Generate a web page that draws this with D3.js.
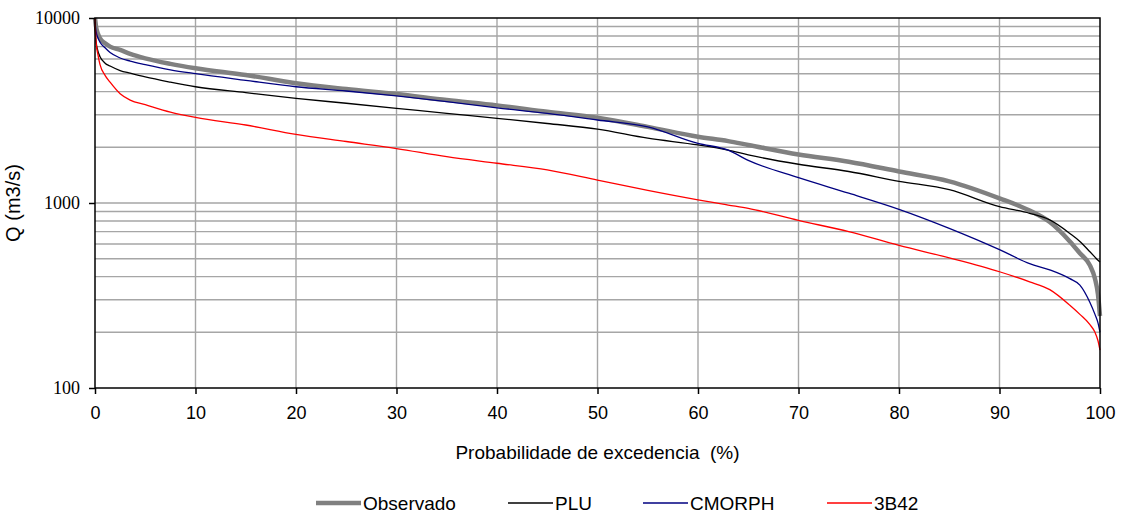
<!DOCTYPE html>
<html>
<head>
<meta charset="utf-8">
<script src="https://cdn.jsdelivr.net/npm/d3@7"></script>
<style>
  body { margin: 0; background: #fff; }
  svg { display: block; }
</style>
</head>
<body>
<div id="vis"></div>
<script>
// Frame
const FRAME_WIDTH = 1123;
const FRAME_HEIGHT = 516;
const MARGINS = {left: 95, right: 23, top: 18, bottom: 128};
const VIS_WIDTH = FRAME_WIDTH - MARGINS.left - MARGINS.right;
const VIS_HEIGHT = FRAME_HEIGHT - MARGINS.top - MARGINS.bottom;

// Data
const PROB = [0, 0.1, 0.3, 0.5, 1, 1.5, 2.5, 3.5, 5, 7.5, 10, 15, 20, 25, 30, 35, 40, 45, 50,
              55, 60, 63, 65, 70, 75, 80, 85, 90, 93, 95, 97, 98, 99, 99.5, 99.8, 100];
const OBSERVADO = [10000, 9000, 8200, 7760, 7300, 7000, 6720, 6400, 6050, 5650, 5350, 4920, 4440,
                   4130, 3880, 3600, 3370, 3110, 2890, 2580, 2280, 2160, 2060, 1830, 1670, 1480,
                   1310, 1060, 910, 790, 620, 535, 460, 390, 320, 245];
const PLU = [9000, 7500, 6600, 6180, 5700, 5500, 5200, 5030, 4800, 4500, 4250, 3950, 3680,
             3460, 3250, 3050, 2870, 2690, 2510, 2240, 2060, 1930, 1820, 1620, 1480, 1310,
             1180, 955, 880, 810, 685, 620, 545, 510, 490, 480];
const CMORPH = [9500, 8500, 7800, 7400, 6900, 6500, 6080, 5850, 5600, 5250, 5000, 4600, 4250,
                4030, 3790, 3530, 3270, 3050, 2810, 2580, 2100, 1930, 1700, 1370, 1130, 925,
                730, 560, 470, 435, 390, 360, 290, 250, 225, 200];
const B42 = [10000, 7500, 6300, 5600, 4900, 4500, 3900, 3600, 3400, 3100, 2900, 2640, 2350,
             2150, 1970, 1780, 1640, 1510, 1330, 1170, 1040, 975, 935, 805, 700, 590,
             505, 425, 375, 340, 280, 250, 220, 200, 180, 160];

const SERIES_NAMES = ["Observado", "PLU", "CMORPH", "3B42"];
const SERIES_VALUES = [OBSERVADO, PLU, CMORPH, B42];
const SERIES_COLORS = ["#808080", "#000000", "#000080", "#ff0000"];
const SERIES_WIDTHS = [4.5, 1.3, 1.3, 1.3];

// Ticks
const X_TICKS = [0, 10, 20, 30, 40, 50, 60, 70, 80, 90, 100];
const Y_TICKS = [100, 1000, 10000];
const Y_GRID = [200, 300, 400, 500, 600, 700, 800, 900, 1000,
                2000, 3000, 4000, 5000, 6000, 7000, 8000, 9000];

const SANS = "'Liberation Sans', Arial, sans-serif";
const SERIF = "'Liberation Serif', 'Times New Roman', serif";

const FRAME = d3.select("#vis")
                .append("svg")
                  .attr("width", FRAME_WIDTH)
                  .attr("height", FRAME_HEIGHT);

const X_SCALE = d3.scaleLinear()
                  .domain([0, 100])
                  .range([0, VIS_WIDTH]);

const Y_SCALE = d3.scaleLog()
                  .domain([100, 10000])
                  .range([VIS_HEIGHT, 0]);

const PLOT = FRAME.append("g")
                  .attr("transform", "translate(" + MARGINS.left + "," + MARGINS.top + ")");

// Horizontal grid
PLOT.selectAll(".hgrid")
    .data(Y_GRID)
    .enter()
    .append("line")
      .attr("x1", 0)
      .attr("x2", VIS_WIDTH)
      .attr("y1", (d) => { return Y_SCALE(d); })
      .attr("y2", (d) => { return Y_SCALE(d); })
      .attr("stroke", "#a6a6a6")
      .attr("stroke-width", 1.4);

// Vertical grid
PLOT.selectAll(".vgrid")
    .data(X_TICKS.slice(1, -1))
    .enter()
    .append("line")
      .attr("x1", (d) => { return X_SCALE(d); })
      .attr("x2", (d) => { return X_SCALE(d); })
      .attr("y1", 0)
      .attr("y2", VIS_HEIGHT)
      .attr("stroke", "#a6a6a6")
      .attr("stroke-width", 1.4);

// Lines
const LINE = d3.line()
               .x((d) => { return X_SCALE(d[0]); })
               .y((d) => { return Y_SCALE(d[1]); })
               .curve(d3.curveMonotoneX);

SERIES_VALUES.forEach((vals, i) => {
  PLOT.append("path")
      .datum(PROB.map((p, j) => { return [p, vals[j]]; }))
      .attr("fill", "none")
      .attr("stroke", SERIES_COLORS[i])
      .attr("stroke-width", SERIES_WIDTHS[i])
      .attr("stroke-linejoin", "round")
      .attr("d", LINE);
});

// Plot border
PLOT.append("rect")
    .attr("x", 0)
    .attr("y", 0)
    .attr("width", VIS_WIDTH)
    .attr("height", VIS_HEIGHT)
    .attr("fill", "none")
    .attr("stroke", "#000")
    .attr("stroke-width", 1.5);

// X axis
const XAXIS = PLOT.append("g")
    .attr("transform", "translate(0," + VIS_HEIGHT + ")")
    .call(d3.axisBottom(X_SCALE).tickValues(X_TICKS).tickSize(6).tickPadding(12));
XAXIS.select(".domain").remove();
XAXIS.selectAll("line").attr("stroke-width", 1.5);
XAXIS.selectAll("text")
     .style("font-family", SANS)
     .style("font-size", "18px")
     .attr("fill", "#000");

// Y axis
const YAXIS = PLOT.append("g")
    .call(d3.axisLeft(Y_SCALE).tickValues(Y_TICKS).tickFormat(d3.format("d")).tickSize(6).tickPadding(9));
YAXIS.select(".domain").remove();
YAXIS.selectAll("line").attr("stroke-width", 1.5);
YAXIS.selectAll("text")
     .style("font-family", SERIF)
     .style("font-size", "18px")
     .attr("fill", "#000");

// Axis titles
FRAME.append("text")
     .attr("x", MARGINS.left + VIS_WIDTH / 2)
     .attr("y", 459)
     .attr("text-anchor", "middle")
     .style("font-family", SANS)
     .style("font-size", "19px")
     .style("white-space", "pre")
     .text("Probabilidade de excedencia  (%)");

FRAME.append("text")
     .attr("transform", "translate(20," + (MARGINS.top + VIS_HEIGHT / 2) + ") rotate(-90)")
     .attr("text-anchor", "middle")
     .style("font-family", SANS)
     .style("font-size", "20px")
     .text("Q (m3/s)");

// Legend
const LEGEND_X = [316, 508, 643, 827];
const LEGEND = FRAME.append("g");
SERIES_NAMES.forEach((name, i) => {
  LEGEND.append("line")
        .attr("x1", LEGEND_X[i])
        .attr("x2", LEGEND_X[i] + 45)
        .attr("y1", 503)
        .attr("y2", 503)
        .attr("stroke", SERIES_COLORS[i])
        .attr("stroke-width", SERIES_WIDTHS[i]);
  LEGEND.append("text")
        .attr("x", LEGEND_X[i] + 47)
        .attr("y", 510)
        .style("font-family", SANS)
        .style("font-size", "19px")
        .text(name);
});
</script>
</body>
</html>
